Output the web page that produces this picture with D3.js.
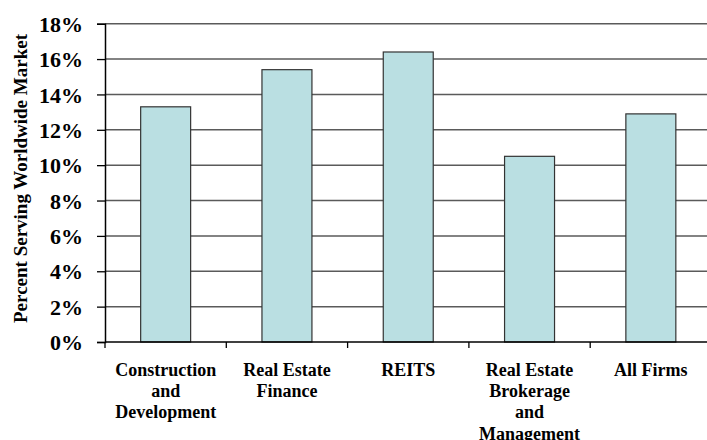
<!DOCTYPE html>
<html><head><meta charset="utf-8">
<script src="https://cdn.jsdelivr.net/npm/d3@7"></script>
<style>
html,body{margin:0;padding:0;background:#fff;}
svg{display:block;}
text{font-family:"Liberation Serif","Times New Roman",serif;font-weight:bold;fill:#000;}
</style></head>
<body>
<svg id="chart" width="707" height="440"></svg>
<script>
const categories = [
  ["Construction","and","Development"],
  ["Real Estate","Finance"],
  ["REITS"],
  ["Real Estate","Brokerage","and","Management"],
  ["All Firms"]
];
const values = [13.3, 15.4, 16.4, 10.5, 12.9];
const yTicks = [0,2,4,6,8,10,12,14,16,18];
const yTitle = "Percent Serving Worldwide Market";

const svg = d3.select("#chart");
const mLeft = 105, mRight = 711.5, mTop = 23.7, mBottom = 342;

const x = d3.scaleBand().domain(d3.range(categories.length)).range([mLeft, mRight])
  .paddingInner(0.588).paddingOuter(0.294);
const xAxisScale = d3.scaleBand().domain(d3.range(categories.length)).range([mLeft, mRight]);
const y = d3.scaleLinear().domain([0,18]).range([mBottom, mTop]);

// gridlines
svg.append("g").selectAll("line").data(yTicks.filter(d=>d>0)).join("line")
  .attr("x1", mLeft).attr("x2", mRight)
  .attr("y1", d=>y(d)).attr("y2", d=>y(d))
  .attr("stroke", "#5a5a5a").attr("stroke-width", 1.5);

// bars
svg.append("g").selectAll("rect").data(values).join("rect")
  .attr("x", (d,i)=>x(i)).attr("width", x.bandwidth())
  .attr("y", d=>y(d)).attr("height", d=>mBottom - y(d))
  .attr("fill", "#BADFE2").attr("stroke", "#333").attr("stroke-width", 1.2);

// y axis
const yAxis = svg.append("g").attr("transform", `translate(${mLeft},0)`)
  .call(d3.axisLeft(y).tickValues(yTicks).tickSize(8).tickPadding(14).tickFormat(d=>d+"%"));
yAxis.select(".domain").attr("stroke","#000").attr("stroke-width",1.5);
yAxis.selectAll(".tick line").attr("stroke","#000").attr("stroke-width",1.3);
yAxis.attr("font-family",null).attr("font-size",null);
yAxis.selectAll(".tick text").style("font-size","22px").attr("dy","0.35em");

// x axis
svg.append("line").attr("x1", mLeft).attr("x2", mRight).attr("y1", mBottom).attr("y2", mBottom)
  .attr("stroke","#000").attr("stroke-width",1.5);
svg.append("g").selectAll("line").data(d3.range(categories.length+1)).join("line")
  .attr("x1", i=> i<categories.length ? xAxisScale(i) : mRight)
  .attr("x2", i=> i<categories.length ? xAxisScale(i) : mRight)
  .attr("y1", mBottom).attr("y2", mBottom+6)
  .attr("stroke","#000").attr("stroke-width",1.3);

// category labels
const lab = svg.append("g").selectAll("text").data(categories).join("text")
  .attr("text-anchor","middle")
  .style("font-size","18px")
  .attr("transform",(d,i)=>`translate(${x(i)+x.bandwidth()/2},${375.7})`);
lab.selectAll("tspan").data(d=>d).join("tspan")
  .attr("x",0).attr("y",(d,j)=>j*21.3).text(d=>d);

// y title
svg.append("text")
  .attr("transform","translate(26.5,178.5) rotate(-90)")
  .attr("text-anchor","middle")
  .style("font-size","19px")
  .text(yTitle);
</script>
</body></html>
